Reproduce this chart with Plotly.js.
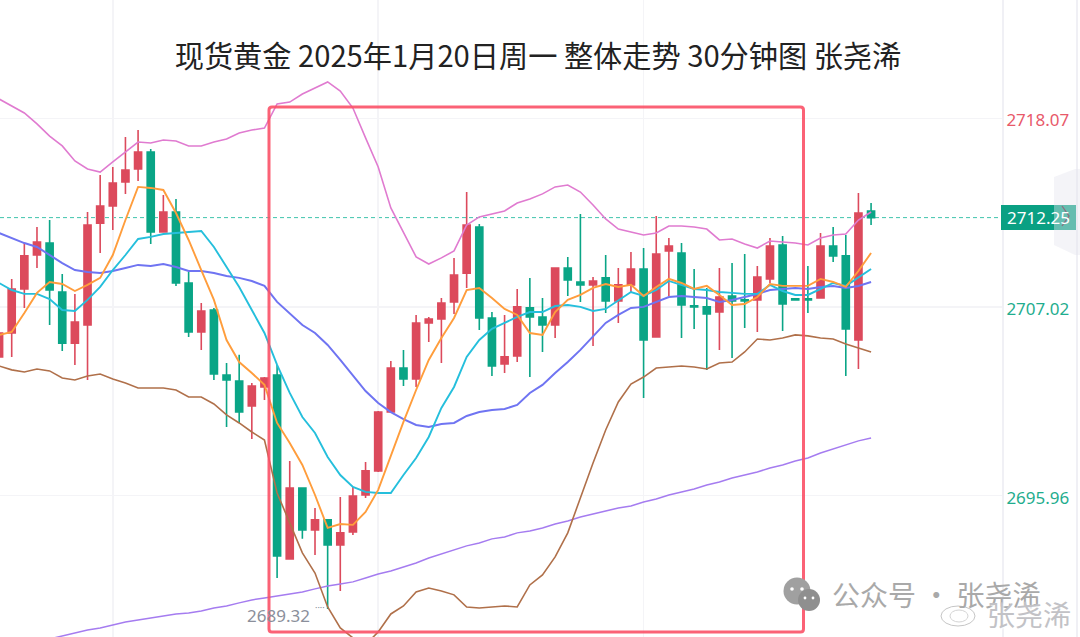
<!DOCTYPE html>
<html><head><meta charset="utf-8">
<script src="https://cdn.plot.ly/plotly-3.0.1.min.js"></script>
<style>html,body{margin:0;padding:0;background:#fff}#c{width:1080px;height:637px}</style>
</head><body><div id="c"></div>
<script>
const titleText = '现货黄金 2025年1月20日周一 整体走势 30分钟图 张尧浠';
const lastPrice = 2712.25;
const lowPrice = 2689.32;
const priceTicks = [2718.07, 2707.02, 2695.96];
const priceTickColors = ['#e8596a', '#1fad8e', '#1fad8e'];
const gridBars = [9, 30, 51];

const openPrices = [2704.09,2705.49,2708.07,2710.06,2710.76,2707.89,2704.90,2705.96,2711.93,2712.93,2714.34,2715.10,2716.09,2711.41,2712.58,2708.42,2705.55,2706.84,2703.03,2702.68,2701.22,2702.33,2703.03,2692.26,2696.41,2693.95,2694.54,2693.08,2693.84,2696.00,2697.41,2700.86,2703.44,2702.80,2706.08,2706.31,2707.31,2709.00,2711.70,2706.37,2703.68,2704.15,2706.96,2706.43,2705.96,2709.30,2708.48,2708.31,2708.72,2707.37,2708.31,2709.24,2705.26,2710.30,2710.18,2707.08,2707.02,2706.72,2707.66,2707.43,2707.43,2708.66,2710.65,2707.49,2707.49,2707.54,2710.59,2710.01,2705.08,2712.64];
const highPrices = [2706.25,2708.66,2710.76,2711.70,2712.11,2708.95,2707.78,2712.58,2714.75,2715.22,2716.98,2717.38,2716.27,2713.58,2713.34,2709.06,2707.25,2706.96,2703.73,2704.21,2702.56,2702.91,2703.62,2697.99,2696.41,2695.24,2694.54,2695.88,2696.47,2697.94,2700.92,2703.85,2704.50,2706.55,2706.43,2707.54,2709.89,2713.75,2711.88,2706.72,2706.55,2708.07,2708.72,2707.54,2709.30,2709.95,2712.46,2708.77,2710.06,2709.30,2710.24,2710.47,2712.35,2711.06,2710.76,2709.24,2708.13,2709.30,2709.59,2710.12,2709.42,2711.06,2711.18,2707.49,2709.42,2711.35,2711.70,2711.23,2713.69,2713.11];
const lowPrices = [2704.03,2704.09,2706.96,2709.30,2705.96,2704.44,2703.62,2702.74,2710.18,2711.53,2713.64,2714.40,2710.71,2711.41,2708.24,2705.26,2704.50,2702.74,2699.99,2700.22,2699.28,2701.57,2691.14,2692.20,2693.43,2692.49,2689.32,2690.38,2693.66,2695.83,2697.35,2700.80,2702.38,2702.33,2704.96,2703.73,2706.61,2708.13,2705.67,2702.97,2703.15,2703.79,2702.91,2704.38,2705.20,2707.66,2707.31,2704.73,2706.66,2706.08,2707.89,2701.68,2705.26,2707.66,2705.20,2705.73,2703.33,2704.50,2704.03,2705.79,2705.55,2708.42,2705.61,2707.43,2706.66,2707.54,2709.65,2702.97,2703.38,2711.82];
const closePrices = [2705.49,2708.07,2710.01,2710.82,2708.01,2704.90,2706.13,2711.82,2712.93,2714.28,2715.04,2716.09,2711.41,2712.58,2708.42,2705.55,2706.78,2703.09,2702.74,2700.86,2702.38,2702.85,2692.43,2696.41,2693.95,2694.54,2693.08,2693.78,2695.94,2697.41,2700.86,2703.44,2702.80,2706.08,2706.31,2707.25,2708.89,2711.82,2706.37,2703.56,2704.09,2707.02,2706.43,2705.96,2709.30,2708.60,2708.31,2708.54,2707.37,2708.31,2709.24,2705.08,2710.12,2710.59,2707.13,2707.02,2706.61,2707.60,2707.37,2707.37,2708.77,2710.59,2707.19,2707.43,2707.43,2710.59,2710.01,2705.73,2712.52,2712.25];

const bandUpper = [2719.20,2718.79,2718.38,2717.74,2717.03,2716.45,2715.57,2715.10,2714.92,2715.51,2716.09,2716.68,2716.62,2716.80,2716.74,2716.45,2716.45,2716.68,2716.86,2717.21,2717.38,2717.50,2718.91,2719.02,2719.49,2719.84,2720.20,2719.67,2718.67,2716.92,2715.22,2712.82,2711.35,2709.95,2709.53,2709.89,2710.30,2711.82,2712.29,2712.46,2712.64,2713.11,2713.34,2713.64,2714.05,2714.16,2713.75,2712.99,2712.17,2711.58,2711.41,2711.23,2711.35,2711.76,2711.76,2711.70,2711.58,2710.94,2711.00,2710.71,2710.47,2710.88,2710.82,2710.76,2710.65,2711.06,2711.23,2711.29,2712.11,2712.58];
const maFast = [2705.38,2705.55,2706.66,2707.84,2708.48,2708.36,2707.95,2708.31,2708.72,2710.06,2712.11,2714.05,2713.99,2713.87,2712.52,2710.94,2709.18,2707.43,2705.08,2703.79,2703.15,2702.45,2700.22,2699.05,2697.76,2696.00,2694.07,2694.30,2694.25,2695.01,2696.30,2698.35,2700.28,2702.15,2703.91,2705.20,2706.37,2708.01,2708.13,2707.54,2706.90,2706.55,2705.49,2705.38,2706.72,2707.43,2707.72,2708.13,2708.36,2708.19,2708.31,2707.66,2708.19,2708.66,2708.42,2708.07,2708.25,2707.72,2707.13,2707.19,2707.60,2708.36,2708.25,2708.25,2708.25,2708.66,2708.48,2708.19,2709.12,2710.18];
const maMid = [2708.42,2708.01,2707.78,2707.78,2707.48,2706.84,2706.78,2707.43,2708.19,2709.18,2710.06,2711.00,2711.12,2711.29,2711.35,2711.41,2711.47,2710.53,2709.36,2708.19,2706.84,2705.49,2703.62,2701.98,2700.57,2699.63,2698.23,2697.17,2696.47,2696.18,2696.12,2696.12,2697.17,2698.17,2699.40,2701.10,2702.33,2704.09,2705.08,2705.73,2706.08,2706.43,2706.72,2706.72,2707.07,2707.13,2707.02,2706.78,2706.90,2707.37,2707.89,2707.66,2708.01,2708.54,2708.31,2708.07,2708.01,2707.89,2707.84,2707.78,2707.78,2708.31,2707.95,2707.72,2707.72,2708.07,2708.42,2708.25,2708.72,2709.24];
const maSlow = [2711.35,2711.06,2710.76,2710.53,2710.06,2709.59,2709.18,2709.06,2709.00,2709.12,2709.30,2709.48,2709.42,2709.53,2709.36,2709.12,2709.12,2709.00,2708.83,2708.72,2708.54,2708.25,2707.31,2706.66,2705.96,2705.49,2704.79,2703.91,2703.03,2702.09,2701.39,2700.86,2700.45,2700.10,2699.99,2700.16,2700.22,2700.63,2700.86,2700.98,2701.04,2701.28,2701.98,2702.45,2703.15,2703.79,2704.50,2705.26,2706.08,2706.55,2706.96,2707.02,2707.31,2707.60,2707.66,2707.60,2707.54,2707.31,2707.43,2707.60,2707.78,2708.01,2708.07,2708.13,2708.07,2708.19,2708.25,2708.13,2708.25,2708.48];
const bandLower = [2703.56,2703.33,2703.21,2703.38,2703.27,2702.85,2702.74,2702.97,2703.09,2702.80,2702.56,2702.27,2702.27,2702.27,2702.15,2701.74,2701.74,2701.33,2700.69,2700.22,2699.69,2699.22,2696.12,2694.36,2692.61,2691.43,2689.44,2688.21,2687.63,2687.22,2687.98,2689.03,2689.50,2690.32,2690.55,2690.38,2690.15,2689.44,2689.38,2689.44,2689.50,2689.44,2690.73,2691.32,2692.37,2693.78,2695.88,2697.88,2699.81,2701.45,2702.50,2702.91,2703.44,2703.50,2703.56,2703.50,2703.38,2703.73,2703.79,2704.38,2705.14,2705.08,2705.20,2705.38,2705.32,2705.20,2705.14,2704.85,2704.61,2704.38];
const maLong = [null,null,null,2687.39,2687.57,2687.74,2687.92,2688.09,2688.21,2688.39,2688.56,2688.68,2688.80,2688.91,2689.03,2689.09,2689.21,2689.38,2689.50,2689.68,2689.85,2689.97,2690.09,2690.20,2690.32,2690.50,2690.67,2690.79,2690.91,2691.14,2691.37,2691.55,2691.78,2692.02,2692.31,2692.55,2692.78,2693.02,2693.19,2693.43,2693.54,2693.78,2693.89,2694.07,2694.30,2694.48,2694.71,2694.89,2695.07,2695.24,2695.36,2695.59,2695.77,2696.00,2696.18,2696.35,2696.59,2696.76,2697.00,2697.17,2697.35,2697.58,2697.76,2697.99,2698.17,2698.46,2698.70,2698.93,2699.17,2699.34];

const barIndex = openPrices.map((_, i) => i);
const red = '#dc4a5c', green = '#0aa586';
const line = (y, color, width) => ({type:'scatter', mode:'lines', x:barIndex, y, line:{color, width, shape:'linear'}, hoverinfo:'skip', showlegend:false});

const traces = [
  {type:'candlestick', x:barIndex, open:openPrices, high:highPrices, low:lowPrices, close:closePrices,
   increasing:{line:{color:red, width:1.6}, fillcolor:red},
   decreasing:{line:{color:green, width:1.6}, fillcolor:green},
   whiskerwidth:0, hoverinfo:'skip', showlegend:false},
  line(maLong, '#a57cf0', 1.5),
  line(bandUpper, '#e07bd0', 1.6),
  line(bandLower, '#b0704a', 1.6),
  line(maSlow, '#6f74f2', 2),
  line(maMid, '#25bfdc', 1.9),
  line(maFast, '#ff9d3c', 1.9)
];

// overlay helpers: screen position -> paper fraction of the plot area
const px = x => x / 1002, py = y => 1 - y / 637;
const P = (x, y) => px(x) + ',' + py(y);
const rectL = 269, rectR = 803.5, rectT = 107, rectB = 632, rr = 3;
const roundRect = 'M' + P(rectL + rr, rectT) + ' L' + P(rectR - rr, rectT) + ' Q' + P(rectR, rectT) + ' ' + P(rectR, rectT + rr) +
  ' L' + P(rectR, rectB - rr) + ' Q' + P(rectR, rectB) + ' ' + P(rectR - rr, rectB) +
  ' L' + P(rectL + rr, rectB) + ' Q' + P(rectL, rectB) + ' ' + P(rectL, rectB - rr) +
  ' L' + P(rectL, rectT + rr) + ' Q' + P(rectL, rectT) + ' ' + P(rectL + rr, rectT) + ' Z';
const paperShape = o => Object.assign({xref:'paper', yref:'paper', layer:'above'}, o);
const circle = (cx, cy, r, fill, op) => paperShape({type:'circle', x0:px(cx - r), x1:px(cx + r), y0:py(cy + r), y1:py(cy - r), fillcolor:fill, line:{width:0}, opacity:op});

const shapes = [
  {type:'line', xref:'paper', x0:0, x1:1, yref:'y', y0:lastPrice, y1:lastPrice, layer:'below', line:{color:'#3fc4ac', width:1, dash:'4px 3px'}},
  paperShape({type:'path', path:roundRect, line:{color:'#fb5268', width:3}, fillcolor:'rgba(0,0,0,0)', opacity:0.9}),
  paperShape({type:'rect', x0:px(1001), x1:px(1076), y0:py(230), y1:py(205), fillcolor:'#0aa083', line:{width:0}}),
  paperShape({type:'line', x0:px(1077), x1:px(1077), y0:0, y1:1, line:{color:'#f0f0f5', width:2}}),
  circle(797, 591, 13.5, '#a0a0a0', 1),
  circle(809, 600, 11, '#8f8f8f', 1),
  circle(792, 589, 1.8, '#ffffff', 1),
  circle(802, 589, 1.8, '#ffffff', 1),
  circle(805, 598, 1.4, '#ffffff', 1),
  circle(813, 598, 1.4, '#ffffff', 1),
  paperShape({type:'circle', x0:px(941), x1:px(975), y0:py(626), y1:py(606), fillcolor:'rgba(0,0,0,0)', line:{color:'#c6c6c6', width:1}}),
  paperShape({type:'circle', x0:px(950), x1:px(968), y0:py(622), y1:py(610), fillcolor:'rgba(0,0,0,0)', line:{color:'#d4d4d4', width:1}})
];
const tabShape = paperShape({type:'path', path:'M' + P(1075,169) + ' L' + P(1054,177) + ' L' + P(1054,245) + ' L' + P(1075,255) + ' L' + P(1080,255) + ' L' + P(1080,169) + ' Z', fillcolor:'#e4e4ee', line:{width:0}, opacity:0.42});
const chevron = paperShape({type:'path', path:'M' + P(1062,206) + ' L' + P(1069,216) + ' L' + P(1062,226), line:{color:'#8c6f80', width:1.3}, fillcolor:'rgba(0,0,0,0)'});

const annotations = [
  {xref:'paper', yref:'paper', x:px(1038), y:py(217.5), text:lastPrice.toFixed(2), showarrow:false, xanchor:'center', yanchor:'middle',
   font:{family:'Noto Sans, sans-serif', size:17, color:'#ffffff'}},
  {x:26, y:lowPrice, xref:'x', yref:'y', text:lowPrice.toFixed(2), showarrow:false, xanchor:'right', yanchor:'middle', xshift:-16, yshift:-6,
   font:{family:'Noto Sans, sans-serif', size:17, color:'#8b8f9b'}},
  {x:26, y:lowPrice, xref:'x', yref:'y', text:'····', showarrow:false, xanchor:'right', yanchor:'middle', xshift:-1, yshift:2,
   font:{family:'Noto Sans, sans-serif', size:9, color:'#8b8f9b'}},
  {xref:'paper', yref:'paper', x:px(830), y:py(594), text:'公众号 · 张尧浠', showarrow:false, xanchor:'left', yanchor:'middle',
   font:{family:'Noto Sans CJK SC, sans-serif', size:28, color:'#a9a9a9'}},
  {xref:'paper', yref:'paper', x:px(985), y:py(614), text:'张尧浠', showarrow:false, xanchor:'left', yanchor:'middle',
   font:{family:'Noto Sans CJK SC, sans-serif', size:28, color:'#c2c2c6', shadow:'1px 1px 2px #ffffff'}}
];

const layout = {
  width:1080, height:637, margin:{l:0, r:78, t:0, b:0, pad:0},
  paper_bgcolor:'#fff', plot_bgcolor:'#fff', showlegend:false, boxgap:0.2,
  title:{text:titleText, x:538/1002, xref:'paper', xanchor:'center', y:1 - 57/637, yref:'container', yanchor:'middle',
         font:{family:'Noto Sans CJK SC, sans-serif', size:29.2, color:'#222222'}},
  xaxis:{range:[0.074, 79.36], type:'linear', showticklabels:false, ticks:'', zeroline:false, showline:false,
         tickmode:'array', tickvals:gridBars, showgrid:true, gridcolor:'#f4f4f7', gridwidth:1.5, rangeslider:{visible:false}},
  yaxis:{range:[2687.68, 2725.00], side:'right', type:'linear', zeroline:false, tickmode:'array', tickvals:priceTicks,
         ticktext:priceTicks.map((v, i) => '<span style="color:' + priceTickColors[i] + '">' + v.toFixed(2) + '</span>'),
         ticks:'', showgrid:true, gridcolor:'#f4f4f7', gridwidth:1.5, showline:true, linecolor:'#f0f0f5', linewidth:2,
         ticklabelstandoff:-1, ticklabelshift:2, tickfont:{family:'Noto Sans, sans-serif', size:17}},
  shapes:shapes.concat([tabShape, chevron]), annotations
};
Plotly.newPlot('c', traces, layout, {displayModeBar:false, staticPlot:true});
</script></body></html>
